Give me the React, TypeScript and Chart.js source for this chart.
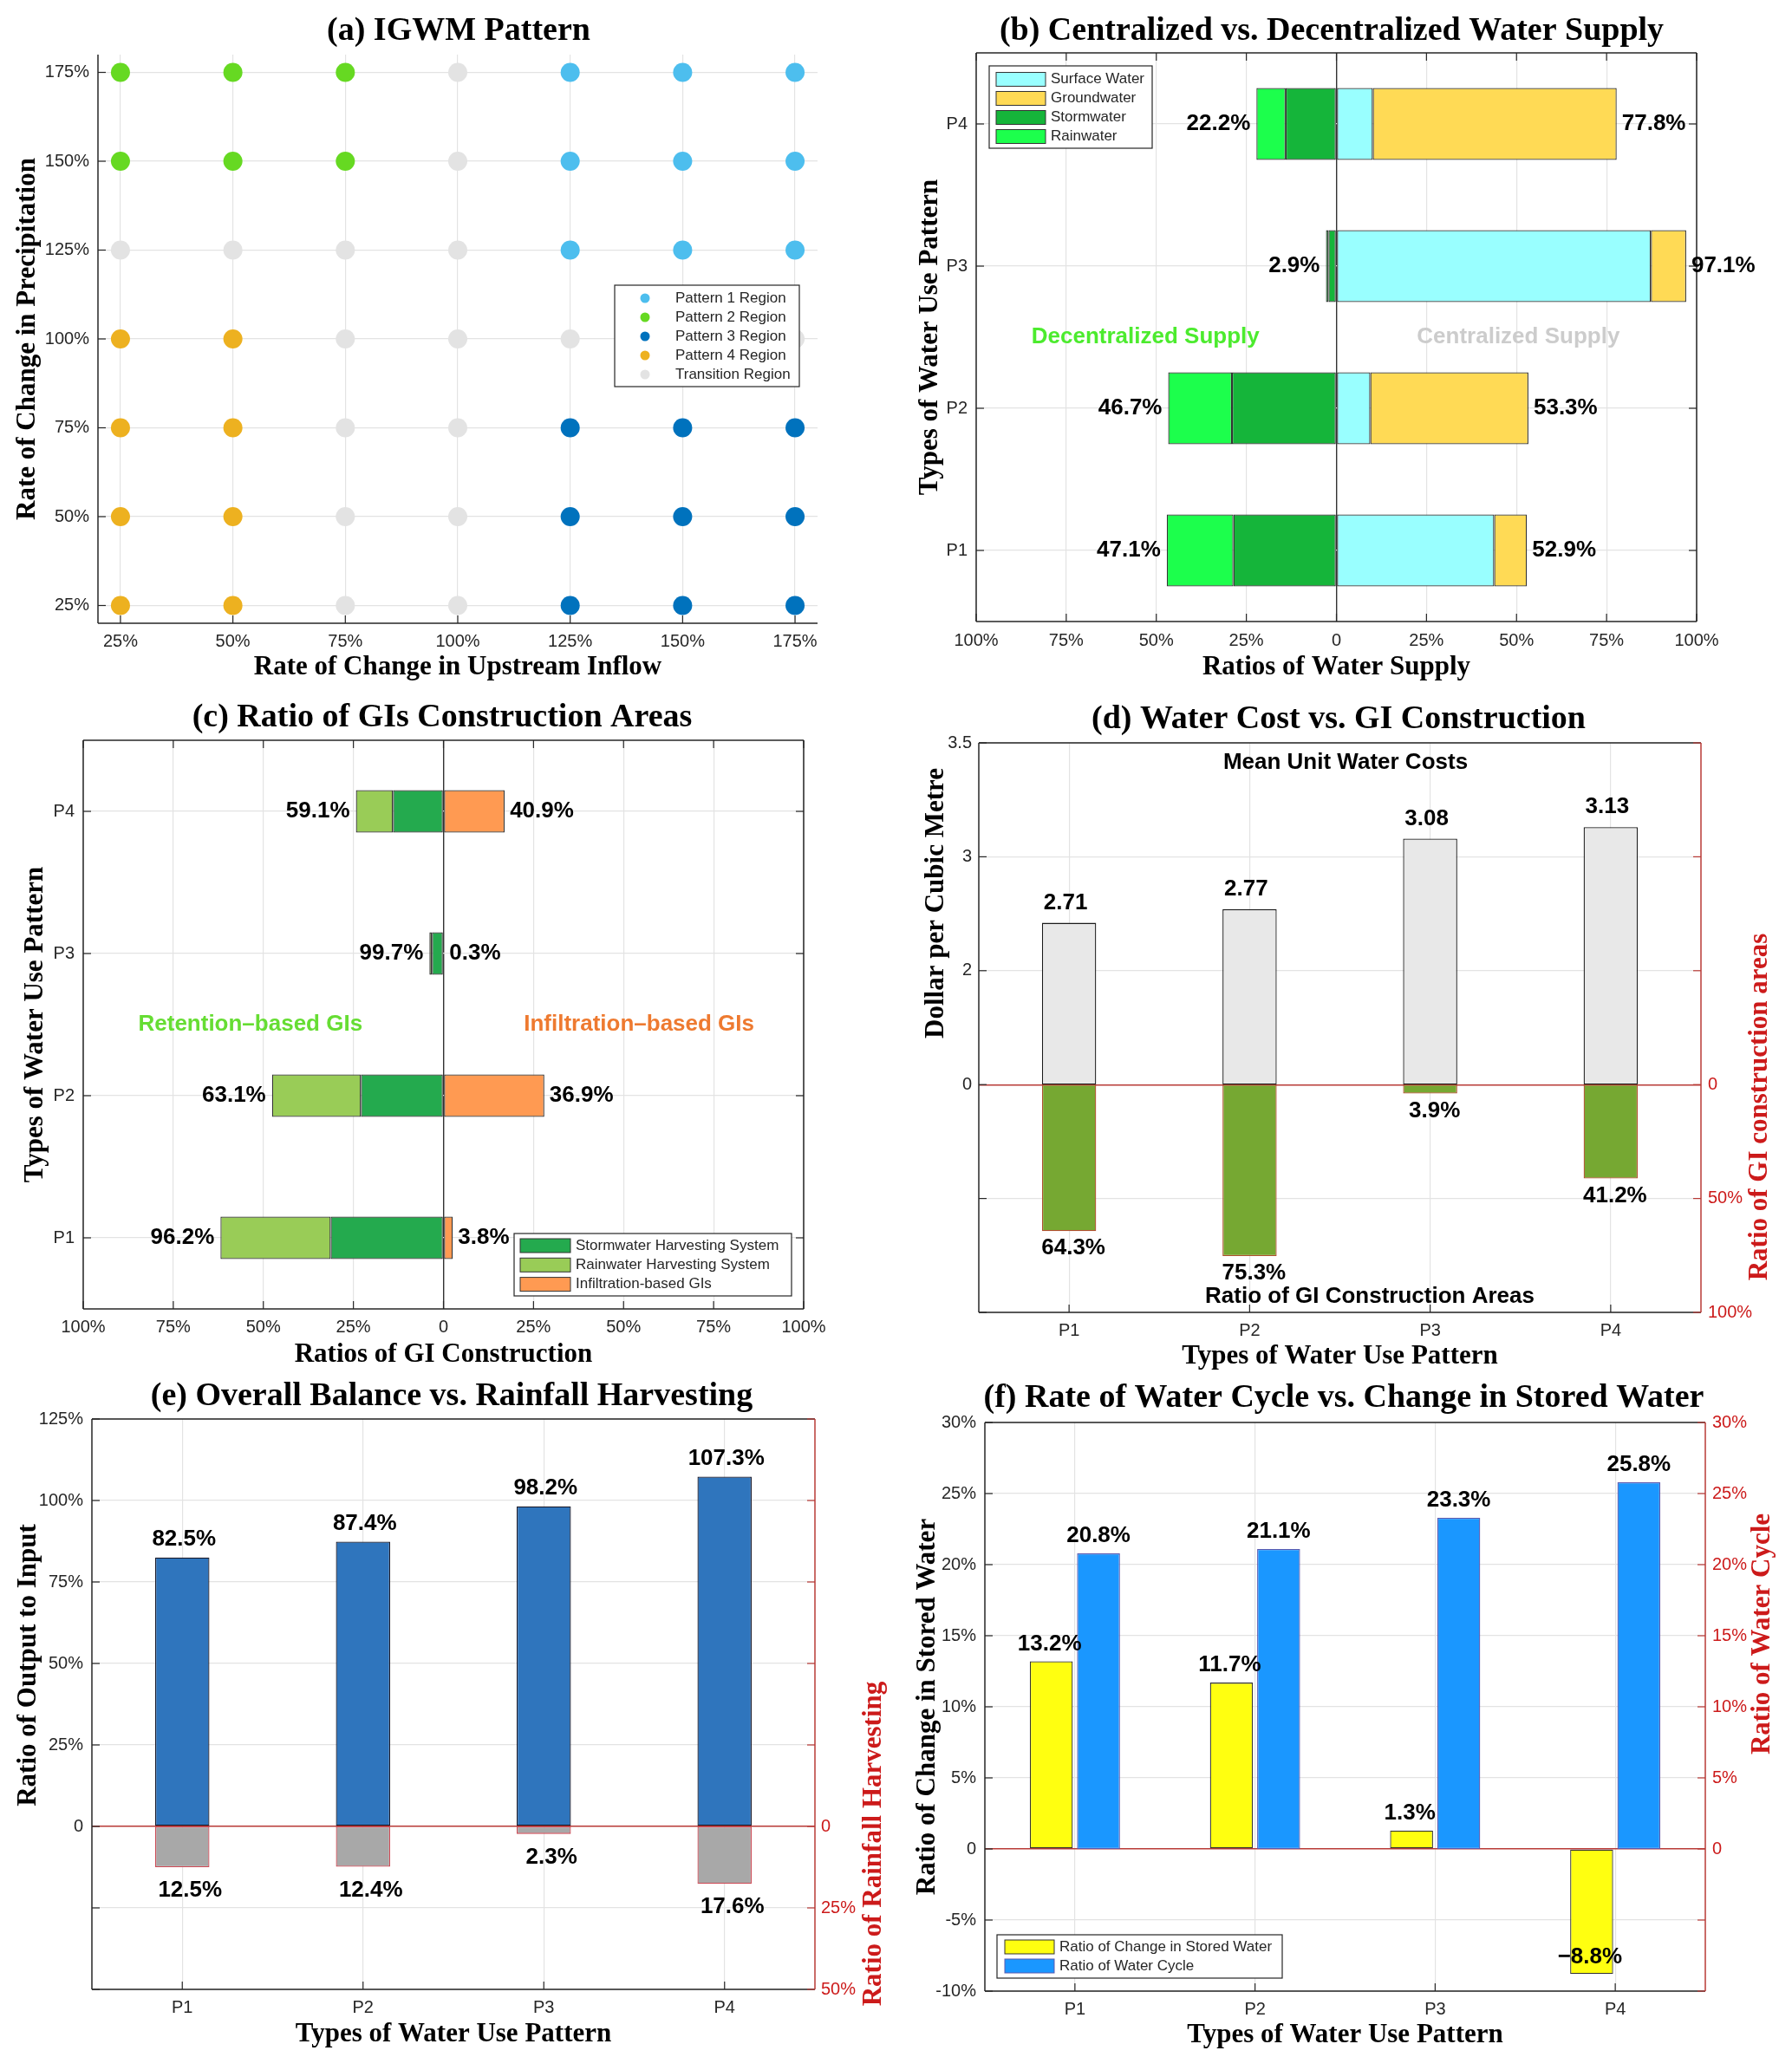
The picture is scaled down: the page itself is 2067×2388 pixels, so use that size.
import React, { useEffect, useRef } from 'react';
import { Chart, registerables } from 'chart.js';

Chart.register(...registerables);

const SANS = '"Liberation Sans", Arial, Helvetica, sans-serif';
const SERIF = '"Liberation Serif", "Times New Roman", Times, serif';
Chart.defaults.font.family = SANS;

/* ============================ data ============================ */
const PATTERNS = ['P1', 'P2', 'P3', 'P4'];

// (a) IGWM pattern grid
const A_INFLOW = [25, 50, 75, 100, 125, 150, 175];
const A_PRECIP = [25, 50, 75, 100, 125, 150, 175];
const A_REGION_NAMES = ['Pattern 1 Region', 'Pattern 2 Region', 'Pattern 3 Region', 'Pattern 4 Region', 'Transition Region'];
const A_REGION_CODES = [1, 2, 3, 4, 0];
// rows: precipitation 25% .. 175%, columns: upstream inflow 25% .. 175%, 0 = transition
const A_GRID = [
  [4, 4, 0, 0, 3, 3, 3],
  [4, 4, 0, 0, 3, 3, 3],
  [4, 4, 0, 0, 3, 3, 3],
  [4, 4, 0, 0, 0, 0, 0],
  [0, 0, 0, 0, 1, 1, 1],
  [2, 2, 2, 0, 1, 1, 1],
  [2, 2, 2, 0, 1, 1, 1],
];
const A_TICKS = [25, 50, 75, 100, 125, 150, 175];

// (b) centralized vs decentralized supply (P1..P4)
const B_SURFACE = [43.8, 9.4, 87.3, 10.1];
const B_GROUND = [9.1, 43.9, 9.8, 67.7];
const B_STORM = [28.6, 29.0, 2.2, 14.1];
const B_RAIN = [18.5, 17.7, 0.7, 8.1];
const B_TICKS = [-100, -75, -50, -25, 0, 25, 50, 75, 100];

// (c) GI construction areas (P1..P4)
const C_STORM = [31.3, 22.9, 3.2, 14.0];
const C_RAIN = [30.6, 24.7, 0.7, 10.3];
const C_INFIL = [2.6, 28.0, 0.2, 17.0];
const C_RET_LABEL = [96.2, 63.1, 99.7, 59.1];
const C_INF_LABEL = [3.8, 36.9, 0.3, 40.9];
const C_TICKS = [-100, -75, -50, -25, 0, 25, 50, 75, 100];

// (d) water cost vs GI construction
const D_COST = [2.71, 2.77, 3.08, 3.13];
const D_GI = [64.3, 75.3, 3.9, 41.2];
const D_COST_BASE = 2;
const D_LEFT_TICKS = [1, 1.5, 2, 2.5, 3, 3.5];
const D_LEFT_LABELS = ['', '', '0', '2', '3', '3.5'];
const D_RIGHT_TICKS = [-150, -100, -50, 0, 50, 100];

// (e) overall balance vs rainfall harvesting
const E_BALANCE = [82.5, 87.4, 98.2, 107.3];
const E_RAIN = [12.5, 12.4, 2.3, 17.6];
const E_LEFT_TICKS = [-50, -25, 0, 25, 50, 75, 100, 125];
const E_RIGHT_TICKS = [-125, -100, -75, -50, -25, 0, 25, 50];

// (f) water cycle vs stored water
const F_STORED = [13.2, 11.7, 1.3, -8.8];
const F_CYCLE = [20.8, 21.1, 23.3, 25.8];
const F_TICKS = [-10, -5, 0, 5, 10, 15, 20, 25, 30];

/* ============================ style / layout ============================ */
const INK = '#262626';
const GRID = '#E3E3E3';
const RED_TEXT = '#CC1A1A';
const RED_LINE = '#B83A36';

const TITLE_FONT = `bold 38px ${SERIF}`;
const AXIS_FONT = `bold 31px ${SERIF}`;
const VALUE_FONT = `bold 26px ${SANS}`;
const LEGEND_FONT = `17px ${SANS}`;
const TICK_FONT = { family: SANS, size: 20 };

const A_COLORS = ['#4DBEEE', '#66D922', '#0072BD', '#EDB120', '#E3E3E3'];

type Rect = { l: number; t: number; r: number; b: number };
type Panel = { left: number; top: number; width: number; height: number; plot: Rect };

const PANEL_A: Panel = { left: 0, top: 0, width: 1030, height: 800, plot: { l: 113, t: 63, r: 943, b: 719 } };
const PANEL_B: Panel = { left: 1030, top: 0, width: 1037, height: 800, plot: { l: 96, t: 61, r: 927, b: 717 } };
const PANEL_C: Panel = { left: 0, top: 800, width: 1030, height: 790, plot: { l: 96, t: 54, r: 927, b: 710 } };
const PANEL_D: Panel = { left: 1030, top: 800, width: 1037, height: 790, plot: { l: 99, t: 57, r: 932, b: 714 } };
const PANEL_E: Panel = { left: 0, top: 1590, width: 1030, height: 798, plot: { l: 106, t: 47, r: 940, b: 705 } };
const PANEL_F: Panel = { left: 1030, top: 1590, width: 1037, height: 798, plot: { l: 106, t: 51, r: 937, b: 707 } };

/* ============================ helpers ============================ */
function drawText(
  ctx: CanvasRenderingContext2D, s: string, x: number, y: number, font: string,
  color = '#000', align: CanvasTextAlign = 'center', rotate = 0,
) {
  ctx.save();
  ctx.translate(x, y);
  if (rotate) ctx.rotate(rotate);
  ctx.font = font;
  ctx.fillStyle = color;
  ctx.textAlign = align;
  ctx.textBaseline = 'middle';
  ctx.fillText(s, 0, 0);
  ctx.restore();
}

function seg(ctx: CanvasRenderingContext2D, x1: number, y1: number, x2: number, y2: number, color: string, lw = 1.5) {
  ctx.save();
  ctx.strokeStyle = color;
  ctx.lineWidth = lw;
  ctx.beginPath();
  ctx.moveTo(x1, y1);
  ctx.lineTo(x2, y2);
  ctx.stroke();
  ctx.restore();
}

function frame(chart: any, ctx: CanvasRenderingContext2D, sides: { left?: string; right?: string; top?: string; bottom?: string }) {
  const a = chart.chartArea;
  if (sides.top) seg(ctx, a.left, a.top, a.right, a.top, sides.top);
  if (sides.bottom) seg(ctx, a.left, a.bottom, a.right, a.bottom, sides.bottom);
  if (sides.left) seg(ctx, a.left, a.top, a.left, a.bottom, sides.left);
  if (sides.right) seg(ctx, a.right, a.top, a.right, a.bottom, sides.right);
}

function tickMarks(chart: any, ctx: CanvasRenderingContext2D, id: string, side: string, color = INK, len = 9) {
  const s = chart.scales[id];
  const a = chart.chartArea;
  s.ticks.forEach((_t: any, i: number) => {
    const p = s.getPixelForTick(i);
    if (side === 'bottom') seg(ctx, p, a.bottom, p, a.bottom - len, color, 1.2);
    if (side === 'top') seg(ctx, p, a.top, p, a.top + len, color, 1.2);
    if (side === 'left') seg(ctx, a.left, p, a.left + len, p, color, 1.2);
    if (side === 'right') seg(ctx, a.right, p, a.right - len, p, color, 1.2);
  });
}

type LegendRow = { label: string; fill: string; stroke?: string };
function legend(
  ctx: CanvasRenderingContext2D, box: Rect, rows: LegendRow[], y0: number, dy: number,
  markX: number, markW: number, textX: number, dot = false,
) {
  ctx.save();
  ctx.fillStyle = '#fff';
  ctx.fillRect(box.l, box.t, box.r - box.l, box.b - box.t);
  ctx.strokeStyle = INK;
  ctx.lineWidth = 1.2;
  ctx.strokeRect(box.l, box.t, box.r - box.l, box.b - box.t);
  rows.forEach((row, i) => {
    const y = y0 + i * dy;
    ctx.fillStyle = row.fill;
    if (dot) {
      ctx.beginPath();
      ctx.arc(markX, y, markW / 2, 0, Math.PI * 2);
      ctx.fill();
    } else {
      ctx.fillRect(markX, y - 8, markW, 16);
      ctx.strokeStyle = row.stroke || '#333';
      ctx.lineWidth = 1;
      ctx.strokeRect(markX, y - 8, markW, 16);
    }
    drawText(ctx, row.label, textX, y, LEGEND_FONT, INK, 'left');
  });
  ctx.restore();
}

const decor = (draw: (chart: any, ctx: CanvasRenderingContext2D) => void) => ({
  id: 'decor',
  afterDraw(chart: any) {
    const ctx = chart.ctx;
    ctx.save();
    draw(chart, ctx);
    ctx.restore();
  },
});

const fixTicks = (values: number[]) => (scale: any) => {
  scale.ticks = values.map((value) => ({ value }));
};
const pctAbs = (v: number) => (v === 0 ? '0' : `${Math.abs(v)}%`);
const signed = (v: number) => `${v < 0 ? '\u2212' : ''}${Math.abs(v).toFixed(1)}%`;

function baseOptions(P: Panel, hasRight: boolean) {
  return {
    responsive: false,
    animation: false,
    events: [],
    layout: { padding: { top: P.plot.t, left: 0, bottom: 0, right: hasRight ? 0 : P.width - P.plot.r } },
    plugins: { legend: { display: false }, tooltip: { enabled: false } },
  };
}
const tickOpts = (extra: any = {}) => ({ font: TICK_FONT, color: INK, padding: 9, maxRotation: 0, minRotation: 0, autoSkip: false, ...extra });
const fitW = (w: number) => (s: any) => { s.width = w; };
const fitH = (h: number) => (s: any) => { s.height = h; };
const plainGrid = { color: GRID, drawTicks: false, offset: false, lineWidth: 1.2 };
const noGrid = { display: false, drawTicks: false };
const gridZero = (zeroValue: number, zeroColor: string) => ({
  drawTicks: false,
  offset: false,
  color: (c: any) => (c.tick && c.tick.value === zeroValue ? zeroColor : GRID),
  lineWidth: (c: any) => (c.tick && c.tick.value === zeroValue ? 1.4 : 1.2),
});

/* ============================ panel (a) ============================ */
function configA(P: Panel) {
  const p = P.plot;
  const pointsFor = (code: number) => {
    const pts: { x: number; y: number }[] = [];
    A_GRID.forEach((row, r) => row.forEach((c, col) => { if (c === code) pts.push({ x: A_INFLOW[col], y: A_PRECIP[r] }); }));
    return pts;
  };
  return {
    type: 'scatter',
    data: {
      datasets: A_REGION_CODES.map((code, k) => ({
        label: A_REGION_NAMES[k],
        data: pointsFor(code),
        backgroundColor: A_COLORS[k],
        borderWidth: 0,
        pointRadius: 11,
        pointHoverRadius: 11,
      })),
    },
    options: {
      ...baseOptions(P, false),
      scales: {
        x: {
          type: 'linear', min: 20, max: 180,
          afterBuildTicks: fixTicks(A_TICKS), afterFit: fitH(P.height - p.b),
          ticks: tickOpts({ callback: (v: number) => `${v}%` }),
          grid: plainGrid, border: { display: false },
        },
        y: {
          type: 'linear', min: 20, max: 180,
          afterBuildTicks: fixTicks(A_TICKS), afterFit: fitW(p.l),
          ticks: tickOpts({ padding: 10, callback: (v: number) => `${v}%` }),
          grid: plainGrid, border: { display: false },
        },
      },
    },
    plugins: [decor((chart, ctx) => {
      const a = chart.chartArea;
      frame(chart, ctx, { left: INK, bottom: INK });
      tickMarks(chart, ctx, 'x', 'bottom');
      tickMarks(chart, ctx, 'y', 'left');
      drawText(ctx, '(a) IGWM Pattern', 529, 36, TITLE_FONT);
      drawText(ctx, 'Rate of Change in Upstream Inflow', (a.left + a.right) / 2, 770, AXIS_FONT);
      drawText(ctx, 'Rate of Change in Precipitation', 32, (a.top + a.bottom) / 2, AXIS_FONT, '#000', 'center', -Math.PI / 2);
      legend(ctx, { l: 709, t: 329, r: 922, b: 446 },
        chart.data.datasets.map((d: any) => ({ label: d.label, fill: d.backgroundColor })),
        344, 22, 744, 11, 779, true);
    })],
  };
}

/* ============================ panel (b) ============================ */
function configB(P: Panel) {
  const p = P.plot;
  return {
    type: 'bar',
    data: {
      labels: PATTERNS,
      datasets: [
        { label: 'Surface Water', data: B_SURFACE, backgroundColor: '#99FFFF' },
        { label: 'Groundwater', data: B_GROUND, backgroundColor: '#FFDA55' },
        { label: 'Stormwater', data: B_STORM.map((v) => -v), backgroundColor: '#15B53A' },
        { label: 'Rainwater', data: B_RAIN.map((v) => -v), backgroundColor: '#1CFF4C' },
      ],
    },
    options: {
      ...baseOptions(P, false),
      indexAxis: 'y',
      datasets: { bar: { barPercentage: 0.506, categoryPercentage: 1, borderWidth: 1.3, borderColor: '#333', borderSkipped: false } },
      scales: {
        x: {
          type: 'linear', min: -100, max: 100, stacked: true,
          afterBuildTicks: fixTicks(B_TICKS), afterFit: fitH(P.height - p.b),
          ticks: tickOpts({ padding: 10, callback: (v: number) => pctAbs(v) }),
          grid: gridZero(0, '#333'), border: { display: false },
        },
        y: {
          type: 'category', stacked: true, reverse: true, afterFit: fitW(p.l),
          ticks: tickOpts({ padding: 10 }),
          grid: plainGrid, border: { display: false },
        },
      },
    },
    plugins: [decor((chart, ctx) => {
      const a = chart.chartArea;
      const xs = chart.scales.x;
      const ys = chart.scales.y;
      frame(chart, ctx, { left: INK, bottom: INK, top: INK, right: INK });
      tickMarks(chart, ctx, 'x', 'bottom');
      tickMarks(chart, ctx, 'x', 'top');
      tickMarks(chart, ctx, 'y', 'left');
      tickMarks(chart, ctx, 'y', 'right');
      PATTERNS.forEach((_n, i) => {
        const y = ys.getPixelForValue(i);
        const dec = B_STORM[i] + B_RAIN[i];
        const cen = B_SURFACE[i] + B_GROUND[i];
        drawText(ctx, `${dec.toFixed(1)}%`, xs.getPixelForValue(-dec) - 7, y, VALUE_FONT, '#000', 'right');
        drawText(ctx, `${cen.toFixed(1)}%`, xs.getPixelForValue(cen) + 6, y, VALUE_FONT, '#000', 'left');
      });
      const midY = (ys.getPixelForValue(1) + ys.getPixelForValue(2)) / 2;
      drawText(ctx, 'Decentralized Supply', xs.getPixelForValue(-53), midY, VALUE_FONT, '#4CEB2E');
      drawText(ctx, 'Centralized Supply', xs.getPixelForValue(50.5), midY, VALUE_FONT, '#CCCCCC');
      drawText(ctx, '(b) Centralized vs. Decentralized Water Supply', 506, 36, TITLE_FONT);
      drawText(ctx, 'Ratios of Water Supply', (a.left + a.right) / 2, 770, AXIS_FONT);
      drawText(ctx, 'Types of Water Use Pattern', 43, (a.top + a.bottom) / 2, AXIS_FONT, '#000', 'center', -Math.PI / 2);
      legend(ctx, { l: 111, t: 76, r: 299, b: 171 },
        chart.data.datasets.map((d: any) => ({ label: d.label, fill: d.backgroundColor })),
        91.5, 22, 119, 57, 182);
    })],
  };
}

/* ============================ panel (c) ============================ */
function configC(P: Panel) {
  const p = P.plot;
  return {
    type: 'bar',
    data: {
      labels: PATTERNS,
      datasets: [
        { label: 'Stormwater Harvesting System', data: C_STORM.map((v) => -v), backgroundColor: '#24AA4E' },
        { label: 'Rainwater Harvesting System', data: C_RAIN.map((v) => -v), backgroundColor: '#99CC57' },
        { label: 'Infiltration-based GIs', data: C_INFIL, backgroundColor: '#FF9A52' },
      ],
    },
    options: {
      ...baseOptions(P, false),
      indexAxis: 'y',
      datasets: { bar: { barPercentage: 0.3, categoryPercentage: 1, borderWidth: 1.3, borderColor: '#333', borderSkipped: false } },
      scales: {
        x: {
          type: 'linear', min: -100, max: 100, stacked: true,
          afterBuildTicks: fixTicks(C_TICKS), afterFit: fitH(P.height - p.b),
          ticks: tickOpts({ callback: (v: number) => pctAbs(v) }),
          grid: gridZero(0, '#333'), border: { display: false },
        },
        y: {
          type: 'category', stacked: true, reverse: true, afterFit: fitW(p.l),
          ticks: tickOpts({ padding: 10 }),
          grid: plainGrid, border: { display: false },
        },
      },
    },
    plugins: [decor((chart, ctx) => {
      const a = chart.chartArea;
      const xs = chart.scales.x;
      const ys = chart.scales.y;
      frame(chart, ctx, { left: INK, bottom: INK, top: INK, right: INK });
      tickMarks(chart, ctx, 'x', 'bottom');
      tickMarks(chart, ctx, 'x', 'top');
      tickMarks(chart, ctx, 'y', 'left');
      tickMarks(chart, ctx, 'y', 'right');
      PATTERNS.forEach((_n, i) => {
        const y = ys.getPixelForValue(i);
        const leftEnd = -(C_STORM[i] + C_RAIN[i]);
        drawText(ctx, `${C_RET_LABEL[i].toFixed(1)}%`, xs.getPixelForValue(leftEnd) - 7, y, VALUE_FONT, '#000', 'right');
        drawText(ctx, `${C_INF_LABEL[i].toFixed(1)}%`, xs.getPixelForValue(C_INFIL[i]) + 6, y, VALUE_FONT, '#000', 'left');
      });
      const midY = (ys.getPixelForValue(1) + ys.getPixelForValue(2)) / 2;
      drawText(ctx, 'Retention\u2013based GIs', xs.getPixelForValue(-53.6), midY, VALUE_FONT, '#66DD33');
      drawText(ctx, 'Infiltration\u2013based GIs', xs.getPixelForValue(54.3), midY, VALUE_FONT, '#EE7A30');
      drawText(ctx, '(c) Ratio of GIs Construction Areas', 510, 28, TITLE_FONT);
      drawText(ctx, 'Ratios of GI Construction', (a.left + a.right) / 2, 763, AXIS_FONT);
      drawText(ctx, 'Types of Water Use Pattern', 41, (a.top + a.bottom) / 2, AXIS_FONT, '#000', 'center', -Math.PI / 2);
      legend(ctx, { l: 593, t: 623, r: 913, b: 695 },
        chart.data.datasets.map((d: any) => ({ label: d.label, fill: d.backgroundColor })),
        637, 22.3, 600, 58, 664);
    })],
  };
}

/* ============================ panel (d) ============================ */
function configD(P: Panel) {
  const p = P.plot;
  return {
    type: 'bar',
    data: {
      labels: PATTERNS,
      datasets: [
        {
          label: 'Mean Unit Water Costs', data: D_COST.map((v) => [D_COST_BASE, v]), yAxisID: 'y',
          backgroundColor: '#E8E8E8', borderColor: '#1A1A1A', borderWidth: 1.3, grouped: false, borderSkipped: false,
        },
        {
          label: 'Ratio of GI Construction Areas', data: D_GI, yAxisID: 'y2',
          backgroundColor: '#76A832', borderColor: '#B0502E', borderWidth: 1.3, grouped: false, borderSkipped: false,
        },
      ],
    },
    options: {
      ...baseOptions(P, true),
      datasets: { bar: { barPercentage: 0.3, categoryPercentage: 1 } },
      scales: {
        x: {
          type: 'category', afterFit: fitH(P.height - p.b),
          ticks: tickOpts(), grid: plainGrid, border: { display: false },
        },
        y: {
          type: 'linear', position: 'left', min: 1, max: 3.5,
          afterBuildTicks: fixTicks(D_LEFT_TICKS), afterFit: fitW(p.l),
          ticks: tickOpts({ padding: 8, callback: (v: number) => D_LEFT_LABELS[D_LEFT_TICKS.indexOf(v)] ?? '' }),
          grid: gridZero(D_COST_BASE, RED_LINE), border: { display: false },
        },
        y2: {
          type: 'linear', position: 'right', reverse: true, min: -150, max: 100,
          afterBuildTicks: fixTicks(D_RIGHT_TICKS), afterFit: fitW(P.width - p.r),
          ticks: tickOpts({ padding: 8, color: RED_TEXT, callback: (v: number) => (v < 0 ? '' : pctAbs(v)) }),
          grid: noGrid, border: { display: false },
        },
      },
    },
    plugins: [decor((chart, ctx) => {
      const a = chart.chartArea;
      const ys = chart.scales.y;
      const y2 = chart.scales.y2;
      frame(chart, ctx, { left: INK, bottom: INK, top: INK, right: RED_LINE });
      tickMarks(chart, ctx, 'x', 'bottom');
      tickMarks(chart, ctx, 'y', 'left');
      tickMarks(chart, ctx, 'y2', 'right', RED_LINE);
      const m0 = chart.getDatasetMeta(0);
      D_COST.forEach((v, i) => {
        drawText(ctx, v.toFixed(2), m0.data[i].x - 4, ys.getPixelForValue(v) - 23, VALUE_FONT);
      });
      D_GI.forEach((v, i) => {
        drawText(ctx, `${v.toFixed(1)}%`, m0.data[i].x + 5, y2.getPixelForValue(v) + 20, VALUE_FONT);
      });
      drawText(ctx, 'Mean Unit Water Costs', 522, 80, VALUE_FONT);
      drawText(ctx, 'Ratio of GI Construction Areas', 550, 696, VALUE_FONT);
      drawText(ctx, '(d) Water Cost vs. GI Construction', 514, 30, TITLE_FONT);
      drawText(ctx, 'Types of Water Use Pattern', (a.left + a.right) / 2, 765, AXIS_FONT);
      drawText(ctx, 'Dollar per Cubic Metre', 50, 242, AXIS_FONT, '#000', 'center', -Math.PI / 2);
      drawText(ctx, 'Ratio of GI construction areas', 1000, 477, AXIS_FONT, RED_TEXT, 'center', -Math.PI / 2);
    })],
  };
}

/* ============================ panel (e) ============================ */
function configE(P: Panel) {
  const p = P.plot;
  return {
    type: 'bar',
    data: {
      labels: PATTERNS,
      datasets: [
        {
          label: 'Ratio of Output to Input', data: E_BALANCE, yAxisID: 'y',
          backgroundColor: '#2F75BD', borderColor: '#1A1A2A', borderWidth: 1.3, grouped: false, borderSkipped: false,
        },
        {
          label: 'Ratio of Rainfall Harvesting', data: E_RAIN, yAxisID: 'y2',
          backgroundColor: '#A8A8A8', borderColor: '#CC4A55', borderWidth: 1.3, grouped: false, borderSkipped: false,
        },
      ],
    },
    options: {
      ...baseOptions(P, true),
      datasets: { bar: { barPercentage: 0.3, categoryPercentage: 1 } },
      scales: {
        x: {
          type: 'category', afterFit: fitH(P.height - p.b),
          ticks: tickOpts(), grid: plainGrid, border: { display: false },
        },
        y: {
          type: 'linear', position: 'left', min: -50, max: 125,
          afterBuildTicks: fixTicks(E_LEFT_TICKS), afterFit: fitW(p.l),
          ticks: tickOpts({ padding: 10, callback: (v: number) => (v < 0 ? '' : pctAbs(v)) }),
          grid: gridZero(0, RED_LINE), border: { display: false },
        },
        y2: {
          type: 'linear', position: 'right', reverse: true, min: -125, max: 50,
          afterBuildTicks: fixTicks(E_RIGHT_TICKS), afterFit: fitW(P.width - p.r),
          ticks: tickOpts({ padding: 7, color: RED_TEXT, callback: (v: number) => (v < 0 ? '' : pctAbs(v)) }),
          grid: noGrid, border: { display: false },
        },
      },
    },
    plugins: [decor((chart, ctx) => {
      const a = chart.chartArea;
      const ys = chart.scales.y;
      const y2 = chart.scales.y2;
      frame(chart, ctx, { left: INK, bottom: INK, top: INK, right: RED_LINE });
      tickMarks(chart, ctx, 'x', 'bottom');
      tickMarks(chart, ctx, 'y', 'left');
      tickMarks(chart, ctx, 'y2', 'right', RED_LINE);
      const m0 = chart.getDatasetMeta(0);
      E_BALANCE.forEach((v, i) => {
        drawText(ctx, `${v.toFixed(1)}%`, m0.data[i].x + 2, ys.getPixelForValue(v) - 21, VALUE_FONT);
      });
      E_RAIN.forEach((v, i) => {
        drawText(ctx, `${v.toFixed(1)}%`, m0.data[i].x + 9, y2.getPixelForValue(v) + 27, VALUE_FONT);
      });
      drawText(ctx, '(e) Overall Balance vs. Rainfall Harvesting', 521, 21, TITLE_FONT);
      drawText(ctx, 'Types of Water Use Pattern', (a.left + a.right) / 2, 757, AXIS_FONT);
      drawText(ctx, 'Ratio of Output to Input', 33, 331, AXIS_FONT, '#000', 'center', -Math.PI / 2);
      drawText(ctx, 'Ratio of Rainfall Harvesting', 1008, 537, AXIS_FONT, RED_TEXT, 'center', -Math.PI / 2);
    })],
  };
}

/* ============================ panel (f) ============================ */
function configF(P: Panel) {
  const p = P.plot;
  return {
    type: 'bar',
    data: {
      labels: PATTERNS,
      datasets: [
        {
          label: 'Ratio of Change in Stored Water', data: F_STORED, yAxisID: 'y',
          backgroundColor: '#FFFF10', borderColor: '#333333', borderWidth: 1.3, borderSkipped: false,
        },
        {
          label: 'Ratio of Water Cycle', data: F_CYCLE, yAxisID: 'y2',
          backgroundColor: '#1A97FF', borderColor: '#5A5AB0', borderWidth: 1.3, borderSkipped: false,
        },
      ],
    },
    options: {
      ...baseOptions(P, true),
      datasets: { bar: { barPercentage: 0.91, categoryPercentage: 0.524 } },
      scales: {
        x: {
          type: 'category', afterFit: fitH(P.height - p.b),
          ticks: tickOpts(), grid: plainGrid, border: { display: false },
        },
        y: {
          type: 'linear', position: 'left', min: -10, max: 30,
          afterBuildTicks: fixTicks(F_TICKS), afterFit: fitW(p.l),
          ticks: tickOpts({ padding: 10, callback: (v: number) => (v === 0 ? '0' : `${v}%`) }),
          grid: gridZero(0, RED_LINE), border: { display: false },
        },
        y2: {
          type: 'linear', position: 'right', min: -10, max: 30,
          afterBuildTicks: fixTicks(F_TICKS), afterFit: fitW(P.width - p.r),
          ticks: tickOpts({ padding: 8, color: RED_TEXT, callback: (v: number) => (v < 0 ? '' : pctAbs(v)) }),
          grid: noGrid, border: { display: false },
        },
      },
    },
    plugins: [decor((chart, ctx) => {
      const a = chart.chartArea;
      const ys = chart.scales.y;
      const y2 = chart.scales.y2;
      frame(chart, ctx, { left: INK, bottom: INK, top: INK, right: RED_LINE });
      tickMarks(chart, ctx, 'x', 'bottom');
      tickMarks(chart, ctx, 'y', 'left');
      tickMarks(chart, ctx, 'y2', 'right', RED_LINE);
      const m0 = chart.getDatasetMeta(0);
      const m1 = chart.getDatasetMeta(1);
      F_STORED.forEach((v, i) => {
        const py = ys.getPixelForValue(v);
        drawText(ctx, signed(v), m0.data[i].x - 2, v >= 0 ? py - 20 : py - 19, VALUE_FONT);
      });
      F_CYCLE.forEach((v, i) => {
        drawText(ctx, signed(v), m1.data[i].x, y2.getPixelForValue(v) - 20, VALUE_FONT);
      });
      legend(ctx, { l: 120, t: 642, r: 449, b: 692 },
        chart.data.datasets.map((d: any) => ({ label: d.label, fill: d.backgroundColor, stroke: d.borderColor })),
        656, 22, 129, 57, 192);
      drawText(ctx, '(f) Rate of Water Cycle vs. Change in Stored Water', 520, 23, TITLE_FONT);
      drawText(ctx, 'Types of Water Use Pattern', (a.left + a.right) / 2, 758, AXIS_FONT);
      drawText(ctx, 'Ratio of Change in Stored Water', 40, (a.top + a.bottom) / 2, AXIS_FONT, '#000', 'center', -Math.PI / 2);
      drawText(ctx, 'Ratio of Water Cycle', 1003, 295, AXIS_FONT, RED_TEXT, 'center', -Math.PI / 2);
    })],
  };
}

/* ============================ components ============================ */
function ChartCanvas({ panel, build }: { panel: Panel; build: (p: Panel) => any }) {
  const ref = useRef<HTMLCanvasElement | null>(null);
  useEffect(() => {
    if (!ref.current) return undefined;
    const chart = new Chart(ref.current, build(panel) as any);
    return () => chart.destroy();
  }, [panel, build]);
  return (
    <canvas
      ref={ref}
      width={panel.width}
      height={panel.height}
      style={{ position: 'absolute', left: panel.left, top: panel.top, width: panel.width, height: panel.height }}
    />
  );
}

export default function App() {
  useEffect(() => {
    document.body.style.margin = '0';
    document.body.style.background = '#fff';
  }, []);
  return (
    <div style={{ position: 'absolute', left: 0, top: 0, width: 2067, height: 2388, background: '#fff', overflow: 'hidden' }}>
      <ChartCanvas panel={PANEL_A} build={configA} />
      <ChartCanvas panel={PANEL_B} build={configB} />
      <ChartCanvas panel={PANEL_C} build={configC} />
      <ChartCanvas panel={PANEL_D} build={configD} />
      <ChartCanvas panel={PANEL_E} build={configE} />
      <ChartCanvas panel={PANEL_F} build={configF} />
    </div>
  );
}
